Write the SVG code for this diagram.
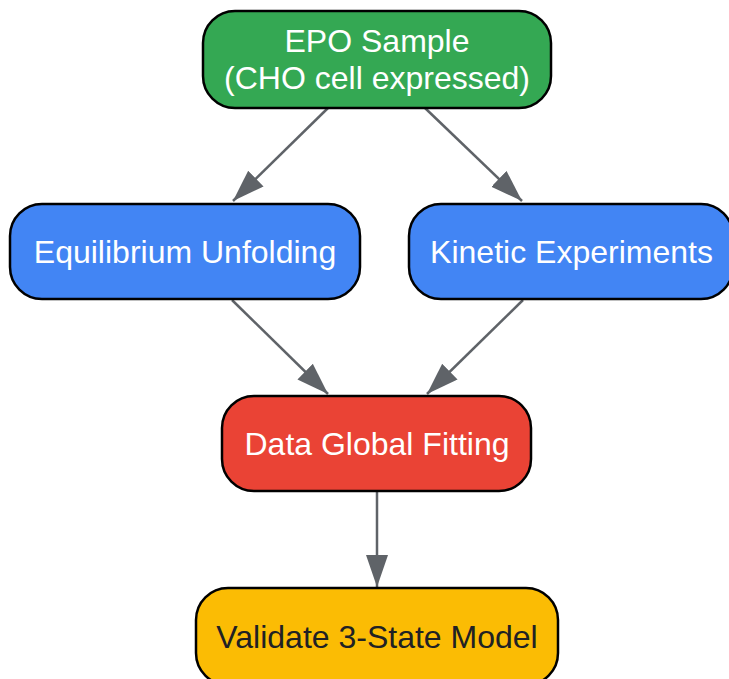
<svg xmlns="http://www.w3.org/2000/svg" width="729" height="679" viewBox="0 0 729 679">
<defs>
<style>
.node rect{stroke:#000;stroke-width:2.5}
.node text{font-family:"Liberation Sans",Arial,sans-serif;font-size:32px;text-anchor:middle;fill:#fff}
.edge{stroke:#5f6368;stroke-width:2.5;fill:none;marker-end:url(#arr)}
</style>
<marker id="arr" markerUnits="userSpaceOnUse" markerWidth="34" markerHeight="24" refX="32" refY="11" orient="auto">
<path d="M0,0 L32,11 L0,22 z" fill="#5f6368"/>
</marker>
</defs>
<rect width="729" height="679" fill="#fff"/>
<g id="edges">
<line class="edge" x1="328" y1="108" x2="233" y2="201"/>
<line class="edge" x1="425" y1="108" x2="522" y2="201"/>
<line class="edge" x1="232" y1="300" x2="328" y2="394"/>
<line class="edge" x1="523" y1="300" x2="427" y2="394"/>
<line class="edge" x1="377" y1="492" x2="377" y2="587"/>
</g>
<g id="epo" class="node">
<rect x="203" y="11" width="348" height="97" rx="32" fill="#34A853"/>
<text x="377" y="52">EPO Sample</text>
<text x="377" y="89">(CHO cell expressed)</text>
</g>
<g id="equilibrium" class="node">
<rect x="10" y="204" width="350" height="95" rx="32" fill="#4285F4"/>
<text x="185" y="263">Equilibrium Unfolding</text>
</g>
<g id="kinetic" class="node">
<rect x="409" y="204" width="324" height="95" rx="32" fill="#4285F4"/>
<text x="571.5" y="263">Kinetic Experiments</text>
</g>
<g id="fitting" class="node">
<rect x="222" y="396" width="309" height="95" rx="32" fill="#EA4335"/>
<text x="377" y="455">Data Global Fitting</text>
</g>
<g id="validate" class="node">
<rect x="196" y="588" width="362" height="97" rx="32" fill="#FBBC04"/>
<text x="377" y="648" style="fill:#202124">Validate 3-State Model</text>
</g>
</svg>
